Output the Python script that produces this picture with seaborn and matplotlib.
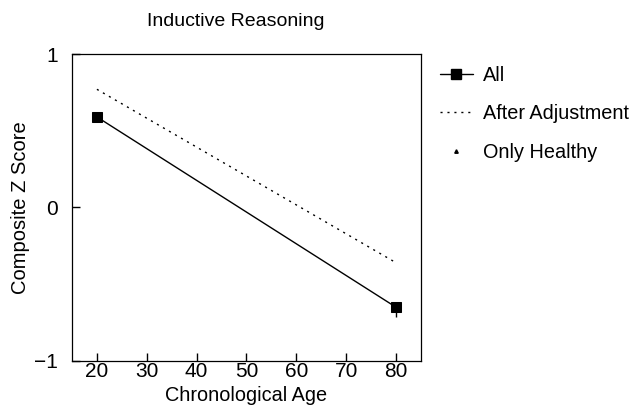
import matplotlib
matplotlib.use("Agg")
import matplotlib.pyplot as plt
import seaborn as sns
import pandas as pd
from matplotlib.lines import Line2D

ages = [20, 80]
all_scores = [0.59, -0.65]
adjusted_scores = [0.77, -0.36]
healthy_scores = [0.59, -0.66]
all_err = [0.0, 0.065]
series_names = ["All", "After Adjustment", "Only Healthy"]
title = "Inductive Reasoning"

sns.set_theme(style="white")
plt.rcParams["font.family"] = ["Liberation Sans", "DejaVu Sans"]
plt.rcParams.update({
    "xtick.bottom": True, "ytick.left": True,
    "xtick.direction": "in", "ytick.direction": "in",
    "xtick.major.size": 6, "ytick.major.size": 6,
    "xtick.major.width": 1.0, "ytick.major.width": 1.0,
    "xtick.color": "black", "ytick.color": "black",
})

df = pd.DataFrame({
    "age": ages * 3,
    "score": all_scores + adjusted_scores + healthy_scores,
    "series": [series_names[0]] * 2 + [series_names[1]] * 2 + [series_names[2]] * 2,
})

fig = plt.figure(figsize=(6.41, 4.18), dpi=100)
ax = fig.add_axes([0.1123, 0.1364, 0.5445, 0.7344])

sns.lineplot(data=df[df.series == "All"], x="age", y="score", ax=ax,
             color="black", lw=1.0, marker="s", markersize=7.5,
             markeredgecolor="black", legend=False)
sns.lineplot(data=df[df.series == "After Adjustment"], x="age", y="score", ax=ax,
             color="black", lw=1.0, linestyle=(0, (1.5, 3.5)), legend=False)
sns.scatterplot(data=df[df.series == "Only Healthy"], x="age", y="score", ax=ax,
                color="black", marker="^", s=6, legend=False)
ax.errorbar(ages, all_scores, yerr=[[0, all_err[1]], [0, 0]], fmt="none",
            ecolor="black", elinewidth=1.0, capsize=0)

ax.set_xlim(15, 85)
ax.set_ylim(-1, 1)
ax.set_xticks([20, 30, 40, 50, 60, 70, 80])
ax.set_yticks([-1, 0, 1])
ax.set_yticklabels(["\u22121", "0", "1"])
ax.tick_params(axis="both", which="major", direction="in", length=6, width=1.0,
               color="black", labelsize=15, left=True, bottom=True,
               labelcolor="black")
ax.tick_params(axis="x", pad=1)
ax.tick_params(axis="y", pad=10)
for s in ax.spines.values():
    s.set_color("black")
    s.set_linewidth(0.9)

ax.set_xlabel("Chronological Age", fontsize=14.3, labelpad=3, color="black")
ax.set_ylabel("Composite Z Score", fontsize=14.5, color="black")
ax.yaxis.set_label_coords(-0.12, 0.5)
fig.text(236 / 641, 1 - 21 / 418, title, fontsize=14, ha="center", va="center",
         color="black")

handles = [
    Line2D([], [], color="black", lw=1.0, marker="s", markersize=6.5),
    Line2D([], [], color="black", lw=1.0, linestyle=(0, (1.5, 3.5))),
    Line2D([], [], color="black", lw=0, marker="^", markersize=2.5),
]
fig.legend(handles, series_names, loc="upper left", bbox_to_anchor=(0.674, 0.862),
           frameon=False, fontsize=14.3, handlelength=1.65, handletextpad=0.5,
           labelspacing=0.98, borderaxespad=0, borderpad=0.4, labelcolor="black")

fig.savefig("out.png", dpi=100, facecolor="white")
